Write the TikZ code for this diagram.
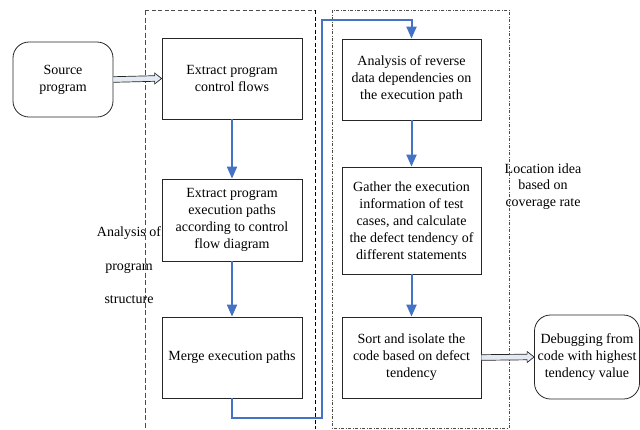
\documentclass[tikz,border=0pt]{standalone}
\usepackage{fontspec}
\setmainfont{Liberation Serif}
\usetikzlibrary{arrows.meta,calc}
\definecolor{flowblue}{HTML}{4472C4}
\definecolor{arrowfill}{HTML}{E4EAF4}
\tikzset{
  stepbox/.style={draw=black!85, line width=0.8pt, minimum width=140pt, minimum height=81pt, align=center, inner sep=2pt, font=\fontsize{14}{17}\selectfont},
  endbox/.style={draw=black!85, line width=0.8pt, rounded corners=16pt, align=center, inner sep=2pt, font=\fontsize{14}{17}\selectfont},
  flow/.style={draw=flowblue, line width=2pt, -{Triangle[length=12pt,width=10pt]}},
  hollowarrow/.style={draw=black!85, line width=0.7pt, fill=arrowfill, line join=miter},
  sidelabel/.style={align=center, font=\fontsize{14}{17}\selectfont}
}
\begin{document}
\begin{tikzpicture}[x=1pt,y=-1pt]
\useasboundingbox (0,0) rectangle (640,429);
% grouping frames
\draw[gray!60!black, line width=0.8pt, dash pattern=on 4pt off 2.5pt] (145,10) -- (315,10);
\draw[gray!60!black, line width=0.9pt, dash pattern=on 5pt off 2.5pt] (145,10) -- (145,429);
\draw[black, line width=0.8pt, dash pattern=on 4pt off 2.5pt] (315,10) -- (315,429);
\draw[gray!60!black, line width=0.8pt, dash pattern=on 3pt off 1.5pt on 1pt off 1.5pt] (332,10) rectangle (509,428);
% nodes
\node[endbox, minimum width=100pt, minimum height=75pt] (src) at (63,79.5) {Source\\program};
\node[stepbox] (b1) at (232,78.5) {Extract program\\control flows};
\node[stepbox, minimum height=82pt] (b2) at (232,220) {Extract program\\execution paths\\according to control\\flow diagram};
\node[stepbox] (b3) at (232,357.5) {Merge execution paths};
\node[stepbox, minimum width=139pt] (b4) at (411.5,79.5) {Analysis of reverse\\data dependencies on\\the execution path};
\node[stepbox, minimum width=139pt, minimum height=107pt] (b5) at (411.5,220.5) {Gather the execution\\information of test\\cases, and calculate\\the defect tendency of\\different statements};
\node[stepbox, minimum width=139pt] (b6) at (411.5,357.5) {Sort and isolate the\\code based on defect\\tendency};
\node[endbox, minimum width=105pt, minimum height=84pt] (dbg) at (587,357) {Debugging from\\code with highest\\tendency value};
\node[sidelabel, font=\fontsize{14}{33.5}\selectfont] (lab1) at (129,265.5) {Analysis of\\program\\structure};
\node[sidelabel, font=\fontsize{14}{16.5}\selectfont] (lab2) at (543,186.5) {Location idea\\based on\\coverage rate};
% connectors
\coordinate (c1) at (232,418);
\coordinate (c2) at (322,418);
\coordinate (c3) at (322,20);
\coordinate (c4) at (411.5,20);
\draw[hollowarrow] ($(src.east)+(0,-2.8)$) -- ($(b1.west)+(-7,-2.8)$) -- ($(b1.west)+(-7,-5.5)$) -- (b1.west)
  -- ($(b1.west)+(-7,5.5)$) -- ($(b1.west)+(-7,2.8)$) -- ($(src.east)+(0,2.8)$);
\draw[flow] (b1) -- (b2);
\draw[flow] (b2) -- (b3);
\draw[flow] (b3.south) -- (c1) -- (c2) -- (c3) -- (c4) -- (b4.north);
\draw[flow] (b4) -- (b5);
\draw[flow] (b5) -- (b6);
\draw[hollowarrow] ($(b6.east)+(0,-2.8)$) -- ($(dbg.west)+(-7,-2.8)$) -- ($(dbg.west)+(-7,-5.5)$) -- (dbg.west)
  -- ($(dbg.west)+(-7,5.5)$) -- ($(dbg.west)+(-7,2.8)$) -- ($(b6.east)+(0,2.8)$);
\end{tikzpicture}
\end{document}
